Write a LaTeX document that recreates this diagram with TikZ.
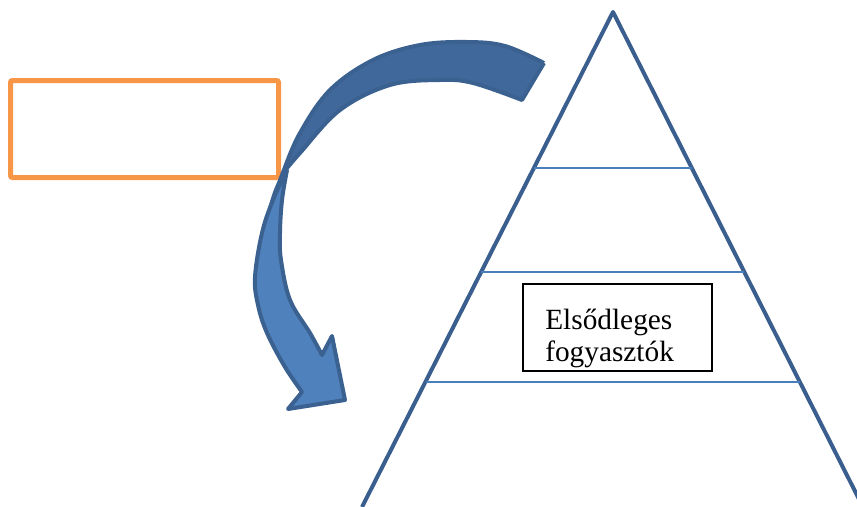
\documentclass[tikz,border=0pt]{standalone}
\usepackage{fontspec}
\setmainfont{Liberation Serif}
\usetikzlibrary{calc}
\definecolor{pyrblue}{HTML}{3A5F8E}
\definecolor{lvlblue}{HTML}{4A7EBB}
\definecolor{boxorange}{HTML}{F79646}
\definecolor{arrline}{HTML}{3A6190}
\definecolor{arrdark}{HTML}{41689A}
\definecolor{arrlight}{HTML}{4F81BD}
\begin{document}
\begin{tikzpicture}[
        x=0.75pt, y=-0.75pt,
        pyrside/.style={draw=pyrblue, line width=3pt, line join=round},
        level line/.style={draw=lvlblue, line width=1.1pt},
        emptybox/.style={draw=boxorange, line width=3.75pt, rounded corners=1.5pt,
          minimum width=201pt, minimum height=72.75pt},
        levelbox/.style={draw=black, line width=1.1pt, fill=white,
          minimum width=141.75pt, minimum height=65.25pt},
        leveltext/.style={inner sep=0pt, align=left,
          font=\fontsize{22}{23.5}\selectfont},
        arrowpart/.style={draw=arrline, line width=3pt, line join=round}
      ]
      \useasboundingbox (0,0) rectangle (857,507);
      \clip (0,0) rectangle (857,507);
      % pyramid
      \coordinate (apex) at (613,12);
      \coordinate (bl) at (362,507);
      \coordinate (br) at (863,507);
      \draw[pyrside] (bl) -- (apex) -- (br);
      \coordinate (top l) at ($(apex)!0.315!(bl)$);
      \coordinate (top r) at ($(apex)!0.315!(br)$);
      \coordinate (mid l) at ($(apex)!0.525!(bl)$);
      \coordinate (mid r) at ($(apex)!0.525!(br)$);
      \coordinate (low l) at ($(apex)!0.747!(bl)$);
      \coordinate (low r) at ($(apex)!0.747!(br)$);
      \draw[level line] (top l) -- (top r);
      \draw[level line] (mid l) -- (mid r);
      \draw[level line] (low l) -- (low r);
      % boxes
      \node[emptybox] (empty) at (144.5,129) {};
      \node[levelbox] (cons) at (617.5,327.5) {};
      \node[leveltext, anchor=north west] (constext) at (545,309) {Elsődleges\\fogyasztók};
      % curved arrow, back part
      \fill[arrdark] plot[smooth, tension=0.6] coordinates {(544,63) (505,46) (467,42) (420,45) (373,60) (330,90) (300,133) (282,175) (268,215) (262,235)}
        -- plot[smooth, tension=0.6] coordinates {(262,235) (272,195) (283,173) (300,153) (340,110) (390,85) (440,80) (473,83) (522,100)} -- cycle;
      \draw[arrowpart] plot[smooth, tension=0.6] coordinates {(544,63) (505,46) (467,42) (420,45) (373,60) (330,90) (300,133) (282,175) (268,215) (262,235)}
        plot[smooth, tension=0.6] coordinates {(283,173) (300,153) (340,110) (390,85) (440,80) (473,83) (522,100)} -- (544,63);
      % curved arrow, front part
      \filldraw[arrowpart, fill=arrlight] plot[smooth, tension=0.6] coordinates {(287,170) (273,200) (262,233) (255,277) (258,305) (267,333) (285,367) (302,392)}
        -- (288,409) -- (345,400) -- (332,336) -- (322,355)
        -- plot[smooth, tension=0.6] coordinates {(322,355) (310,333) (290,300) (281,260) (280,233) (282,200) (287,170)} -- cycle;
    \end{tikzpicture}
\end{document}
